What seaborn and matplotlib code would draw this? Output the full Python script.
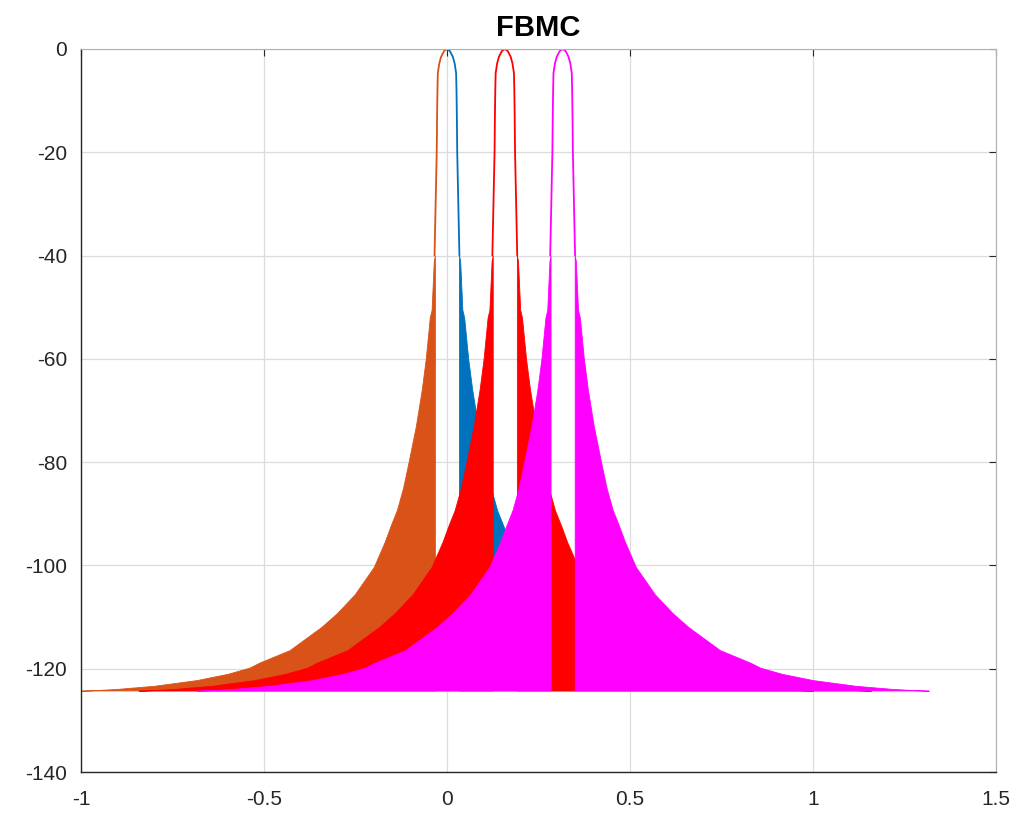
import numpy as np
import pandas as pd
import matplotlib
matplotlib.use("Agg")
import matplotlib.pyplot as plt
import seaborn as sns

# ---- data ----
# main lobe shape: offset from carrier centre vs level (dB)
lobe_off = [0.0, 0.008, 0.016, 0.021, 0.025, 0.026, 0.027, 0.028, 0.031, 0.034]
lobe_db = [0.0, -0.4, -1.5, -2.8, -4.7, -8.0, -13.0, -20.0, -30.0, -40.0]

# sidelobe upper envelope: offset from carrier centre vs level (dB)
env_off = [0.033, 0.036, 0.042, 0.047, 0.058, 0.069, 0.085, 0.105, 0.120, 0.137,
           0.155, 0.170, 0.200, 0.252, 0.300, 0.343, 0.430, 0.512, 0.540, 0.600,
           0.684, 0.800, 0.900, 1.000]
env_db = [-40.0, -41.0, -50.5, -52.0, -60.0, -66.0, -73.0, -80.0, -85.0, -89.3,
          -92.5, -95.4, -100.3, -105.6, -109.2, -111.9, -116.4, -118.8, -119.8, -121.0,
          -122.2, -123.3, -123.9, -124.3]

floor_db = -124.2

# carriers: centre, which sides are drawn, colour (draw order matters)
centres = [0.0, 0.0, 0.158, 0.316]
sides = [[1], [-1], [-1, 1], [-1, 1]]
colours = ["#0072BD", "#D95319", "#FF0000", "#FF00FF"]

sns.set_theme(style="white")
plt.rcParams['font.family'] = ['Liberation Sans', 'DejaVu Sans']
plt.rcParams['axes.unicode_minus'] = False

fig = plt.figure(figsize=(10.21, 8.18), dpi=100)
ax = fig.add_axes([0.0793, 0.0562, 0.8962, 0.8839])

for c, sd, col in zip(centres, sides, colours):
    for s in sd:
        ex = [c + s * o for o in env_off]
        ax.fill_between(ex, env_db, floor_db, color=col, linewidth=0.6, edgecolor=col)
        lx = [c + s * o for o in lobe_off]
        df = pd.DataFrame({"f": lx, "db": lobe_db})
        sns.lineplot(data=df, x="f", y="db", sort=False, color=col, linewidth=1.3, ax=ax)

ax.set_xlim(-1, 1.5)
ax.set_ylim(-140, 0)
ax.set_xticks([-1, -0.5, 0, 0.5, 1, 1.5])
ax.set_xticklabels(["-1", "-0.5", "0", "0.5", "1", "1.5"])
ax.set_yticks(list(range(-140, 1, 20)))
ax.set_xlabel("")
ax.set_ylabel("")
ax.grid(True, color="#dcdcdc", linewidth=0.9)
ax.set_axisbelow(True)
ax.tick_params(direction="in", length=5, width=0.8, top=True, right=True,
               labelsize=15, colors="#262626")
ax.tick_params(axis="x", pad=13)
ax.tick_params(axis="y", pad=10)
for side in ["left", "bottom"]:
    ax.spines[side].set_color("#262626")
    ax.spines[side].set_linewidth(1.0)
for side in ["top", "right"]:
    ax.spines[side].set_color("#b0b0b0")
    ax.spines[side].set_linewidth(0.8)
ax.set_title("FBMC", fontsize=21, fontweight="bold", color="black", pad=9)

fig.savefig("out.png", dpi=100)
